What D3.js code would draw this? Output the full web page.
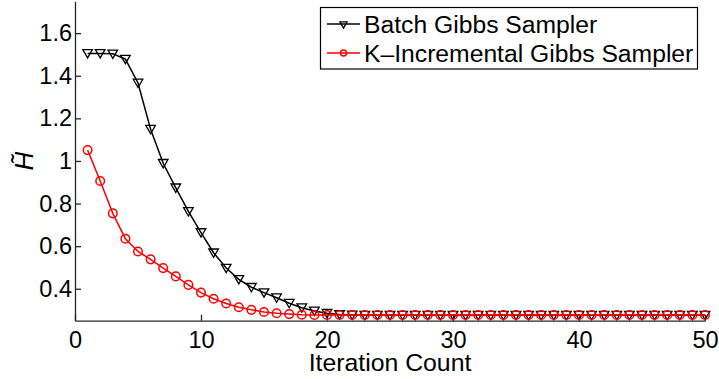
<!DOCTYPE html>
<html>
<head>
<meta charset="utf-8">
<script src="https://cdn.jsdelivr.net/npm/d3@7"></script>
<style>
  html, body { margin: 0; padding: 0; background: #fff; }
  svg { display: block; }
  text { font-family: "Liberation Sans", Arial, sans-serif; fill: #000; }
</style>
</head>
<body>
<svg id="chart" width="719" height="379"></svg>
<script>
// Iteration index (1..50)
const iterations = d3.range(1, 51);

// Estimated entropy per iteration, batch sampler
const batchValues = [
  1.505, 1.505, 1.503, 1.478, 1.366, 1.149, 0.989, 0.874, 0.763, 0.664,
  0.569, 0.497, 0.444, 0.407, 0.382, 0.358, 0.332, 0.311, 0.296, 0.285,
  0.279, 0.277, 0.276, 0.276, 0.276, 0.276, 0.276, 0.276, 0.276, 0.276,
  0.276, 0.276, 0.276, 0.276, 0.276, 0.276, 0.276, 0.276, 0.276, 0.276,
  0.276, 0.276, 0.276, 0.276, 0.276, 0.276, 0.276, 0.276, 0.276, 0.276
];

// Estimated entropy per iteration, K-incremental sampler
const incrementalValues = [
  1.051, 0.906, 0.754, 0.635, 0.575, 0.538, 0.497, 0.458, 0.418, 0.382,
  0.353, 0.331, 0.313, 0.301, 0.291, 0.285, 0.281, 0.278, 0.277, 0.277,
  0.277, 0.277, 0.277, 0.277, 0.277, 0.277, 0.277, 0.277, 0.277, 0.277,
  0.277, 0.277, 0.277, 0.277, 0.277, 0.277, 0.277, 0.277, 0.277, 0.277,
  0.277, 0.277, 0.277, 0.277, 0.277, 0.277, 0.277, 0.277, 0.277, 0.277
];

const seriesNames = ["Batch Gibbs Sampler", "K\u2013Incremental Gibbs Sampler"];
const xTicks = [0, 10, 20, 30, 40, 50];
const yTicks = [0.4, 0.6, 0.8, 1.0, 1.2, 1.4, 1.6];
const xLabel = "Iteration Count";
const yLabel = "H\u0303";

const svg = d3.select("#chart");

const x = d3.scaleLinear().domain([0, 50]).range([75, 705]);
const y = d3.scaleLinear().domain([0.25, 1.75]).range([320.7, 1.2]);

const axisColor = "#262626";
const tickFont = 23.5;

// x axis: ticks point inward
const gx = svg.append("g")
  .attr("transform", `translate(0,${y(0.25)})`)
  .call(d3.axisBottom(x).tickValues(xTicks).tickFormat(d3.format("d"))
    .tickSizeInner(-6).tickSizeOuter(0).tickPadding(11));
gx.select(".domain").attr("stroke", axisColor).attr("stroke-width", 1.3);
gx.selectAll(".tick line").attr("stroke", axisColor).attr("stroke-width", 1.3);
gx.selectAll(".tick text").attr("font-size", tickFont).attr("font-family", "Liberation Sans, Arial, sans-serif").attr("fill", "#000");

// y axis: ticks point inward
const gy = svg.append("g")
  .attr("transform", `translate(${x(0)},0)`)
  .call(d3.axisLeft(y).tickValues(yTicks)
    .tickFormat(d => d === 1 ? "1" : d3.format(".1f")(d))
    .tickSizeInner(-6).tickSizeOuter(0).tickPadding(3));
gy.select(".domain").attr("stroke", axisColor).attr("stroke-width", 1.3);
gy.selectAll(".tick line").attr("stroke", axisColor).attr("stroke-width", 1.3);
gy.selectAll(".tick text").attr("font-size", tickFont).attr("font-family", "Liberation Sans, Arial, sans-serif").attr("fill", "#000");

// axis titles
svg.append("text")
  .attr("x", (x(0) + x(50)) / 2)
  .attr("y", 371)
  .attr("text-anchor", "middle")
  .attr("font-size", 24.8)
  .text(xLabel);

svg.append("text")
  .attr("transform", "translate(33,161) rotate(-90)")
  .attr("text-anchor", "middle")
  .attr("font-family", "Liberation Serif, Times New Roman, serif")
  .attr("font-style", "italic")
  .attr("font-size", 26)
  .text(yLabel);

const line = d3.line().x((d, i) => x(iterations[i])).y(d => y(d));

function drawTriangle(g, cx, cy, size) {
  g.append("path")
    .attr("d", d3.symbol().type(d3.symbolTriangle).size(size)())
    .attr("transform", `translate(${cx},${cy}) rotate(180)`)
    .attr("fill", "none")
    .attr("stroke", "#000")
    .attr("stroke-width", 1.3);
}

// batch series
svg.append("path")
  .datum(batchValues)
  .attr("fill", "none")
  .attr("stroke", "#000")
  .attr("stroke-width", 1.5)
  .attr("d", line);

const batchMarks = svg.append("g");
batchValues.forEach((v, i) => drawTriangle(batchMarks, x(iterations[i]), y(v) - 1, 40));

// incremental series
svg.append("path")
  .datum(incrementalValues)
  .attr("fill", "none")
  .attr("stroke", "#ff0000")
  .attr("stroke-width", 1.5)
  .attr("d", line);

svg.append("g").selectAll("circle")
  .data(incrementalValues)
  .join("circle")
  .attr("cx", (d, i) => x(iterations[i]))
  .attr("cy", d => y(d))
  .attr("r", 4.3)
  .attr("fill", "none")
  .attr("stroke", "#ff0000")
  .attr("stroke-width", 1.5);

// legend
const legend = svg.append("g");
legend.append("rect")
  .attr("x", 320.5).attr("y", 7.5)
  .attr("width", 377).attr("height", 61.5)
  .attr("fill", "#fff")
  .attr("stroke", "#000")
  .attr("stroke-width", 1.2);

const rows = [
  { name: seriesNames[0], color: "#000", cy: 24 },
  { name: seriesNames[1], color: "#ff0000", cy: 53 }
];
rows.forEach((r, i) => {
  legend.append("line")
    .attr("x1", 327).attr("x2", 360)
    .attr("y1", r.cy).attr("y2", r.cy)
    .attr("stroke", r.color).attr("stroke-width", 1.5);
  if (i === 0) {
    drawTriangle(legend, 343.5, r.cy, 22);
  } else {
    legend.append("circle")
      .attr("cx", 343.5).attr("cy", r.cy).attr("r", 3)
      .attr("fill", "none").attr("stroke", r.color).attr("stroke-width", 1.5);
  }
  legend.append("text")
    .attr("x", 364).attr("y", r.cy)
    .attr("dy", "0.35em")
    .attr("font-size", 24.7)
    .text(r.name);
});
</script>
</body>
</html>
